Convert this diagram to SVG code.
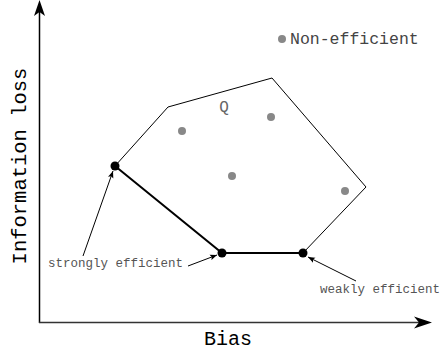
<svg xmlns="http://www.w3.org/2000/svg" width="442" height="354" viewBox="0 0 442 354">
<style>
.mono{font-family:"Liberation Mono","DejaVu Sans Mono",monospace}
.gray{fill:#888}
.lbl{fill:#555;font-size:12.5px}
.thin{fill:none;stroke:#000;stroke-width:1}
.thick{fill:none;stroke:#000;stroke-width:2}
.ptr{fill:none;stroke:#000;stroke-width:1;marker-end:url(#ah)}
</style>
<defs>
<marker id="ah" viewBox="0 0 10 10" refX="10" refY="5" markerWidth="7" markerHeight="7" markerUnits="userSpaceOnUse" orient="auto">
<path d="M0,1 L10,5 L0,9 L2,5 Z" fill="#000"/>
</marker>
</defs>
<g id="axes">
<line x1="39.5" y1="323" x2="39.5" y2="12" stroke="#000" stroke-width="1.5"/>
<path d="M39.5,0 L45,16 L39.5,12 L34,16 Z" fill="#000"/>
<line x1="39" y1="322.5" x2="420" y2="322.5" stroke="#333" stroke-width="1.5"/>
<path d="M432,322.5 L414,316.5 L419,322.5 L414,328.5 Z" fill="#000"/>
<text class="mono" x="228" y="345" font-size="20" text-anchor="middle" fill="#000">Bias</text>
<text class="mono" transform="translate(26,166) rotate(-90)" font-size="20.5" text-anchor="middle" fill="#000">Information loss</text>
</g>
<g id="region-Q">
<polyline class="thin" points="115,166 168,107 272,78 366,187 303,253"/>
<text class="mono" x="224" y="112" font-size="16" text-anchor="middle" fill="#666">Q</text>
</g>
<g id="connectors">
<polyline class="thick" points="115,166 222,253 303,253"/>
<line class="ptr" x1="83" y1="256" x2="113" y2="171"/>
<line class="ptr" x1="188" y1="266" x2="217" y2="255"/>
<line class="ptr" x1="356" y1="281" x2="308" y2="257"/>
</g>
<g id="non-efficient-points">
<circle class="gray" cx="182" cy="131" r="4"/>
<circle class="gray" cx="271" cy="117" r="4"/>
<circle class="gray" cx="232" cy="176" r="4"/>
<circle class="gray" cx="345" cy="191" r="4"/>
</g>
<g id="legend">
<circle class="gray" cx="282" cy="39" r="4"/>
<text class="mono" x="290" y="44" font-size="16.5" fill="#444">Non-efficient</text>
</g>
<g id="node-strong-left"><circle cx="115" cy="166" r="4.5" fill="#000"/></g>
<g id="node-strong-mid"><circle cx="222" cy="253" r="4.5" fill="#000"/></g>
<g id="node-weak"><circle cx="303" cy="253" r="4.5" fill="#000"/></g>
<g id="label-strong"><text class="mono lbl" x="48" y="267">strongly efficient</text></g>
<g id="label-weak"><text class="mono lbl" x="320" y="293" font-size="12.2">weakly efficient</text></g>
</svg>
